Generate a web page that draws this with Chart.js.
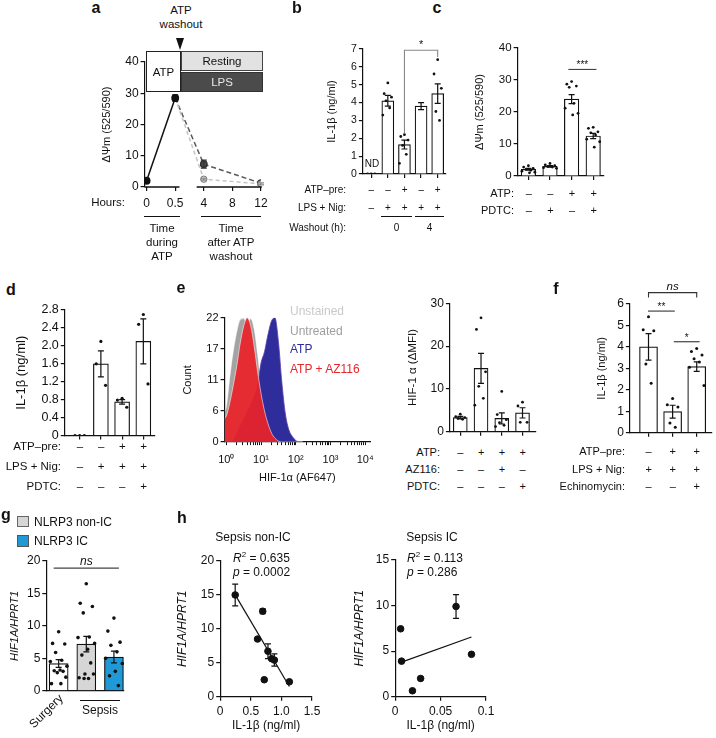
<!DOCTYPE html>
<html>
<head>
<meta charset="utf-8">
<title>Figure</title>
<script src="https://cdn.jsdelivr.net/npm/chart.js@4.4.1/dist/chart.umd.min.js"></script>
<style>
  body { margin: 0; width: 716px; height: 738px; position: relative; overflow: hidden; background: #fff;
         font-family: 'Liberation Sans', Arial, sans-serif; color: #111; }
  canvas { position: absolute; }
  .t { position: absolute; white-space: nowrap; line-height: 1; }
  .box { position: absolute; box-sizing: border-box; display: flex; align-items: center; justify-content: center; }
</style>
</head>
<body>
<script>
// ---- a: mitochondrial potential over time
const hours = ['0', '0.5', '4', '8', '12'];
const atpTrace = [2.0, 28.5, null, null, null];
const atpErr = [0, 1.0, 0, 0, 0];
const lpsTrace = [null, 28.5, 7.3, null, 1.2];
const lpsErr = [0, 0, 1.3, 0, 0];
const restTrace = [null, 28.5, 2.5, null, 1.0];
const restErr = [0, 0, 0.3, 0, 0.3];
const axisSegments = [[-0.07, 1.15], [1.75, 4.03]];

// ---- b: IL-1b after washout
const bAtpPre = ['–', '–', '+', '–', '+'];
const bLpsNig = ['–', '+', '+', '+', '+'];
const bMean = [0, 4.1, 1.65, 3.8, 4.5];
const bSem = [0, 0.3, 0.25, 0.2, 0.55];
const bDots = [[0, 0, 0], [5.1, 4.5, 4.3, 4.1, 3.7, 3.3], [2.2, 2.1, 1.9, 1.6, 1.1, 0.6], [], [6.4, 5.6, 4.8, 3.5, 3.0]];

// ---- c: PDTC
const cAtp = ['–', '–', '+', '+'];
const cPdtc = ['–', '+', '–', '+'];
const cMean = [2.1, 3.0, 24.0, 12.5];
const cSem = [0.3, 0.25, 1.4, 0.8];
const cDots = [[3.2, 2.8, 2.4, 2.1, 1.8, 1.5, 1.2, 1.0], [3.9, 3.5, 3.2, 3.0, 2.8, 2.6, 2.4],
               [29.5, 28.7, 28.1, 27.7, 22.7, 21.2, 19.6, 19.1], [15.2, 14.9, 13.8, 13.5, 12.8, 11.5, 10.7, 9.0]];

// ---- d
const dAtpPre = ['–', '–', '+', '+'];
const dLpsNig = ['–', '+', '+', '+'];
const dPdtc = ['–', '–', '–', '+'];
const dMean = [0, 1.6, 0.75, 2.1];
const dSem = [0, 0.29, 0.05, 0.5];
const dDots = [[0, 0, 0], [2.1, 1.6, 1.12], [0.83, 0.79, 0.63], [2.7, 2.48, 1.15]];

// ---- e: flow histogram
const histX = [0.89, 1, 1.26, 1.58, 2, 2.51, 3.16, 3.98, 5.01, 6.31, 7.94, 10, 12.6, 15.8, 20, 25.1, 31.6, 39.8, 50.1, 63.1, 79.4, 100, 126, 158];
const histUnstained = [4.0, 4.8, 10.0, 15.5, 19.5, 21.8, 22.0, 20.5, 18.5, 15.0, 10.5, 6.0, 2.8, 1.0, 0.3, 0, 0, 0, 0, 0, 0, 0, 0, 0];
const histUntreated = [5.5, 6.2, 11.5, 16.0, 19.5, 21.6, 21.8, 21.0, 21.8, 20.0, 15.5, 10.0, 5.0, 1.9, 0.5, 0, 0, 0, 0, 0, 0, 0, 0, 0];
const histAtp = [0, 0, 0, 0.3, 1.5, 2.8, 4.0, 5.3, 6.6, 8.0, 10.0, 14.0, 16.0, 19.0, 21.4, 22.0, 17.8, 10.5, 5.0, 2.2, 1.0, 0.3, 0, 0];
const histAtpAz = [4.2, 4.6, 7.0, 10.0, 13.5, 17.5, 20.5, 22.0, 20.6, 17.0, 12.5, 8.6, 5.5, 3.3, 1.6, 0.7, 0.2, 0, 0, 0, 0, 0, 0, 0];
const histTickVals = [1, 10, 100, 1000, 10000];
const histTickText = ['10⁰', '10¹', '10²', '10³', '10⁴'];
const countTicks = [0, 5.5, 11, 16.5, 22];
const countText = ['0', '6', '11', '17', '22'];

// ---- e: HIF-1a MFI
const eAtp = ['–', '+', '+', '+'];
const eAz = ['–', '–', '+', '–'];
const ePdtc = ['–', '–', '–', '+'];
const eMean = [3.3, 14.8, 3.1, 4.4];
const eSem = [0.3, 3.5, 1.3, 1.2];
const eDots = [[4.1, 3.5, 3.3, 3.1, 2.9], [26.6, 23.9, 14.0, 10.6, 7.8, 6.2], [9.4, 4.0, 2.8, 2.1, 1.5, 1.2], [6.9, 6.0, 2.2, 2.2]];

// ---- f: echinomycin
const fAtpPre = ['–', '+', '+'];
const fLpsNig = ['+', '+', '+'];
const fEchino = ['–', '–', '+'];
const fMean = [4.0, 0.98, 3.08];
const fSem = [0.62, 0.3, 0.22];
const fDots = [[5.4, 4.8, 4.75, 3.2, 2.3], [1.6, 1.3, 1.2, 0.45, 0.25], [3.92, 3.78, 3.62, 3.45, 3.3, 3.05, 2.2]];

// ---- g: patients
const gGroups = ['Surgery', 'NLRP3 non-IC', 'NLRP3 IC'];
const gColors = ['#ffffff', '#d6d6d6', '#1f9ad6'];
const gMean = [4.2, 7.2, 5.2];
const gSem = [0.6, 1.2, 0.9];
const gDots = [[9.1, 7.3, 7.2, 5.9, 4.7, 4.5, 3.8, 3.2, 3.1, 3.0, 2.8, 2.1, 1.1, 1.1],
               [16.5, 13.5, 13.0, 12.0, 8.3, 8.2, 7.3, 6.4, 5.5, 4.3, 2.6, 2.6, 2.0, 1.9, 1.9],
               [11.2, 9.2, 7.5, 7.0, 6.0, 5.0, 4.2, 3.0, 2.3, 0.8]];

// ---- h: correlations
const nonIcX = [0.245, 0.695, 0.61, 0.78, 0.84, 0.885, 0.72, 1.13];
const nonIcY = [15.0, 12.6, 8.5, 6.7, 5.6, 5.4, 2.5, 2.2];
const nonIcErr = [1.6, 0.35, 0, 1.1, 0, 0.9, 0, 0];
const nonIcFitX = [0.245, 1.13];
const nonIcFitY = [15.0, 1.5];
const icX = [0.006, 0.007, 0.019, 0.028, 0.067, 0.084];
const icY = [7.45, 3.9, 0.65, 2.0, 9.9, 4.65];
const icErr = [0, 0, 0, 0, 1.3, 0];
const icFitX = [0.007, 0.084];
const icFitY = [3.8, 6.55];

const FONT = "'Liberation Sans', Arial, sans-serif";
Chart.defaults.font.family = FONT;
Chart.defaults.color = '#111';

// horizontal spread of individual dots inside a bar (in category units)
const jit = [0, -0.22, 0.22, -0.11, 0.11, -0.3, 0.3, 0.05, -0.16, 0.16, -0.05, 0.26, -0.26, 0.08, -0.08, 0.2];

function txt(x, y, html, o = {}) {
  const d = document.createElement('div');
  d.className = 't';
  d.innerHTML = html;
  d.style.left = x + 'px';
  d.style.top = y + 'px';
  d.style.fontSize = (o.size || 11) + 'px';
  const tx = o.align === 'right' ? '-100%' : o.align === 'left' ? '0' : '-50%';
  d.style.transform = `translate(${tx}, -50%)` + (o.rot ? ` rotate(${o.rot}deg)` : '');
  if (o.bold) d.style.fontWeight = 'bold';
  if (o.italic) d.style.fontStyle = 'italic';
  if (o.color) d.style.color = o.color;
  document.body.appendChild(d);
  return d;
}

function rect(l, t, w, h, css, html = '') {
  const d = document.createElement('div');
  d.className = 'box';
  d.style.cssText += `left:${l}px;top:${t}px;width:${w}px;height:${h}px;` + css;
  d.innerHTML = html;
  document.body.appendChild(d);
  return d;
}

function addCanvas(outer) {
  const c = document.createElement('canvas');
  const w = Math.round(outer.r - outer.l), h = Math.round(outer.b - outer.t);
  c.width = w; c.height = h;
  c.style.left = outer.l + 'px'; c.style.top = outer.t + 'px';
  c.style.width = w + 'px'; c.style.height = h + 'px';
  document.body.appendChild(c);
  return c;
}

function pad(p) {
  return { top: p.plot.t - p.outer.t, right: p.outer.r - p.plot.r, left: 0, bottom: 0 };
}

// error bars and significance brackets
const marks = {
  id: 'marks',
  afterDatasetsDraw(chart, args, opts) {
    const ctx = chart.ctx, xs = chart.scales.x, ys = chart.scales.y;
    chart.data.datasets.forEach((ds, i) => {
      const meta = chart.getDatasetMeta(i);
      meta.data.forEach((el, j) => {
        const pt = ds.data[j];
        if (!pt || !pt.e) return;
        const y1 = ys.getPixelForValue(pt.y + pt.e), y2 = ys.getPixelForValue(pt.y - pt.e);
        const w = ds.cap || 3;
        ctx.save();
        ctx.strokeStyle = ds.errColor || '#111';
        ctx.lineWidth = 1.2;
        ctx.beginPath();
        ctx.moveTo(el.x, y1); ctx.lineTo(el.x, y2);
        ctx.moveTo(el.x - w, y1); ctx.lineTo(el.x + w, y1);
        ctx.moveTo(el.x - w, y2); ctx.lineTo(el.x + w, y2);
        ctx.stroke();
        ctx.restore();
      });
    });
    (opts.brackets || []).forEach(b => {
      const x1 = xs.getPixelForValue(b.x1), x2 = xs.getPixelForValue(b.x2), y = ys.getPixelForValue(b.y);
      ctx.save();
      ctx.strokeStyle = b.color || '#333';
      ctx.lineWidth = 1.1;
      ctx.beginPath();
      if (b.l1 != null) { ctx.moveTo(x1, ys.getPixelForValue(b.l1)); ctx.lineTo(x1, y); } else ctx.moveTo(x1, y);
      ctx.lineTo(x2, y);
      if (b.l2 != null) ctx.lineTo(x2, ys.getPixelForValue(b.l2));
      ctx.stroke();
      ctx.fillStyle = '#111';
      ctx.textAlign = 'center';
      ctx.textBaseline = 'alphabetic';
      ctx.font = (b.italic ? 'italic ' : '') + (b.size || 11) + 'px ' + FONT;
      ctx.fillText(b.text, (x1 + x2) / 2, y - (b.gap || 2));
      ctx.restore();
    });
  }
};

// x axis of panel a is drawn in two pieces
const brokenAxis = {
  id: 'brokenAxis',
  afterDraw(chart) {
    const xs = chart.scales.x, y = chart.chartArea.bottom, ctx = chart.ctx;
    ctx.save();
    ctx.strokeStyle = '#111';
    ctx.lineWidth = 1.3;
    ctx.beginPath();
    axisSegments.forEach(([a, b]) => { ctx.moveTo(xs.getPixelForValue(a), y); ctx.lineTo(xs.getPixelForValue(b), y); });
    ctx.stroke();
    ctx.restore();
  }
};

function yAxis(p) {
  return {
    type: 'linear', min: 0, max: p.yMax,
    afterBuildTicks: p.yTicks ? s => { s.ticks = p.yTicks.map(v => ({ value: v })); } : undefined,
    afterFit: s => { s.width = p.plot.l - p.outer.l; },
    border: { color: '#111', width: 1.2 },
    grid: { drawOnChartArea: false, tickLength: 4, color: '#111', lineWidth: 1.2 },
    ticks: { stepSize: p.yStep, padding: 2, color: '#111', autoSkip: false, font: { size: p.tickSize },
             callback: p.yFmt || (v => String(v)) },
    title: { display: true, text: p.yTitle, color: '#111', padding: 0,
             font: { size: p.titleSize, style: p.titleItalic ? 'italic' : 'normal' } }
  };
}

function xIndexAxis(p) {
  return {
    type: 'linear', min: p.xMin, max: p.xMax, offset: false,
    afterBuildTicks: s => { s.ticks = p.mean.map((_, i) => ({ value: i + 1 })); },
    afterFit: s => { s.height = p.outer.b - p.plot.b; },
    border: { color: '#111', width: 1.2 },
    grid: { display: p.xTicks !== false, offset: false, drawOnChartArea: false, tickLength: 4, color: '#111', lineWidth: 1.2 },
    ticks: { display: false }
  };
}

function barPanel(p) {
  const canvas = addCanvas(p.outer);
  const dotPts = [];
  p.dots.forEach((vals, i) => vals.forEach((v, j) => dotPts.push({ x: i + 1 + jit[j % jit.length] * p.spread, y: v })));
  return new Chart(canvas, {
    type: 'bar',
    data: {
      datasets: [
        { type: 'scatter', data: dotPts, pointRadius: p.dotR || 1.5, pointBackgroundColor: '#111', pointBorderWidth: 0, order: 1 },
        { type: 'bar', data: p.mean.map((m, i) => ({ x: i + 1, y: m, e: p.sem[i] })), backgroundColor: p.fill || '#fff',
          borderColor: '#111', borderWidth: 1.2, barThickness: p.barW, order: 2, cap: p.cap || 3 }
      ]
    },
    options: {
      responsive: false, animation: false,
      layout: { padding: pad(p) },
      plugins: { legend: { display: false }, tooltip: { enabled: false }, marks: { brackets: p.brackets || [] } },
      scales: { x: xIndexAxis(p), y: yAxis(p) }
    },
    plugins: [marks]
  });
}

function condRows(chart, p, rows, labelX, size) {
  const xs = chart.scales.x;
  rows.forEach(([name, vals, y]) => {
    txt(labelX, y, name, { align: 'right', size });
    vals.forEach((v, i) => txt(p.outer.l + xs.getPixelForValue(i + 1), y, v, { size }));
  });
}

function toPoints(arr, errs) {
  return arr.map((v, i) => (v == null ? null : { x: i, y: v, e: errs[i] })).filter(Boolean);
}

// ================= panel a =================
const aP = { outer: { l: 100.4, t: 48, r: 275, b: 212 }, plot: { l: 145, t: 62, r: 261, b: 187 },
             yMax: 40, yStep: 10, tickSize: 12, yTitle: 'ΔΨm (525/590)', titleSize: 11 };
new Chart(addCanvas(aP.outer), {
  type: 'line',
  data: {
    datasets: [
      { data: toPoints(atpTrace, atpErr), borderColor: '#111', borderWidth: 1.5, pointRadius: 3.2,
        pointBackgroundColor: '#111', pointBorderColor: '#111' },
      { data: toPoints(restTrace, restErr), borderColor: '#c4c4c4', borderDash: [4, 3], borderWidth: 1.5,
        pointRadius: c => (c.raw && c.raw.x === 1 ? 0 : 3.2), pointBackgroundColor: '#d4d4d4',
        pointBorderColor: '#777', pointBorderWidth: 1, errColor: '#888' },
      { data: toPoints(lpsTrace, lpsErr), borderColor: '#5a5a5a', borderDash: [5, 3], borderWidth: 1.5,
        pointRadius: c => (c.raw && c.raw.x === 1 ? 0 : 3.2), pointBackgroundColor: '#4a4a4a',
        pointBorderColor: '#333', errColor: '#333' }
    ]
  },
  options: {
    responsive: false, animation: false,
    layout: { padding: pad(aP) },
    plugins: { legend: { display: false }, tooltip: { enabled: false } },
    scales: {
      x: { type: 'linear', min: -0.07, max: 4, offset: false,
           afterBuildTicks: s => { s.ticks = hours.map((_, i) => ({ value: i })); },
           afterFit: s => { s.height = aP.outer.b - aP.plot.b; },
           border: { display: false },
           grid: { drawOnChartArea: false, tickLength: 4, color: '#111', lineWidth: 1.2 },
           ticks: { padding: 5, autoSkip: false, maxRotation: 0, font: { size: 12 }, callback: v => hours[v] } },
      y: yAxis(aP)
    }
  },
  plugins: [marks, brokenAxis]
});
txt(96, 8, 'a', { bold: true, size: 16 });
txt(181, 11, 'ATP', { size: 11.5 });
txt(181, 25, 'washout', { size: 11.5 });
rect(175.5, 38, 0, 0, 'border-left:4.5px solid transparent;border-right:4.5px solid transparent;border-top:12px solid #111;');
rect(146, 51, 35, 41, 'background:#fff;border:1px solid #222;font-size:11.5px;', 'ATP');
rect(181, 51, 82, 20, 'background:#e2e2e2;border:1px solid #444;font-size:11.5px;', 'Resting');
rect(181, 72, 82, 20, 'background:#4b4b4b;border:1px solid #333;color:#e6e6e6;font-size:11.5px;', 'LPS');
txt(125, 203, 'Hours:', { align: 'right', size: 11.5 });
rect(144, 216, 36, 0, 'border-top:1px solid #111;');
rect(201, 216, 60, 0, 'border-top:1px solid #111;');
txt(162, 229, 'Time', { size: 11.5 });
txt(162, 243, 'during', { size: 11.5 });
txt(162, 257, 'ATP', { size: 11.5 });
txt(231, 229, 'Time', { size: 11.5 });
txt(231, 243, 'after ATP', { size: 11.5 });
txt(231, 257, 'washout', { size: 11.5 });

// ================= panel b =================
const bP = { outer: { l: 325.1, t: 36, r: 458, b: 196 }, plot: { l: 363, t: 49, r: 446, b: 174 },
             xMin: 0.5, xMax: 5.5, yMax: 7, yStep: 1, tickSize: 10.5, yTitle: 'IL-1β (ng/ml)', titleSize: 11,
             barW: 12, spread: 1, dotR: 1.4, mean: bMean, sem: bSem, dots: bDots,
             brackets: [{ x1: 3, x2: 5, y: 6.93, l1: 2.3, l2: 6.55, text: '*', color: '#888', size: 11, gap: 2 }] };
const bChart = barPanel(bP);
txt(297, 8, 'b', { bold: true, size: 16 });
txt(372, 164, 'ND', { size: 10 });
condRows(bChart, bP, [['ATP–pre:', bAtpPre, 190], ['LPS + Nig:', bLpsNig, 208]], 346, 10);
txt(346, 228, 'Washout (h):', { align: 'right', size: 10 });
rect(381, 216, 31, 0, 'border-top:1px solid #111;');
rect(415, 216, 29, 0, 'border-top:1px solid #111;');
txt(396.5, 228, '0', { size: 10 });
txt(429.5, 228, '4', { size: 10 });

// ================= panel c =================
const cP = { outer: { l: 473.4, t: 36, r: 615, b: 196 }, plot: { l: 518, t: 48, r: 604, b: 176 },
             xMin: 0.5, xMax: 4.5, yMax: 40, yStep: 10, tickSize: 11.5, yTitle: 'ΔΨm (525/590)', titleSize: 11,
             barW: 14.5, spread: 1, dotR: 1.4, mean: cMean, sem: cSem, dots: cDots,
             brackets: [{ x1: 2.85, x2: 4.15, y: 33.3, text: '***', color: '#444', size: 10, gap: 1 }] };
const cChart = barPanel(cP);
txt(437, 8, 'c', { bold: true, size: 16 });
condRows(cChart, cP, [['ATP:', cAtp, 193], ['PDTC:', cPdtc, 210]], 514, 11);

// ================= panel d =================
const dP = { outer: { l: 14.2, t: 298, r: 166, b: 445 }, plot: { l: 65, t: 310, r: 155, b: 437.7 },
             xMin: 0.3, xMax: 4.55, yMax: 2.8, yStep: 0.4, yFmt: v => (v === 0 ? '0' : v.toFixed(1)),
             tickSize: 12.5, yTitle: 'IL-1β (ng/ml)', titleSize: 13,
             barW: 15, spread: 1, dotR: 1.6, mean: dMean, sem: dSem, dots: dDots };
const dChart = barPanel(dP);
txt(11, 290, 'd', { bold: true, size: 16 });
condRows(dChart, dP, [['ATP–pre:', dAtpPre, 447], ['LPS + Nig:', dLpsNig, 467], ['PDTC:', dPdtc, 487]], 61, 11.5);

// ================= panel e (histogram) =================
const hP = { outer: { l: 181.4, t: 305, r: 382, b: 484.6 }, plot: { l: 225, t: 317.7, r: 371.7, b: 441.7 },
             yMax: 22, yTicks: countTicks, yFmt: v => countText[countTicks.indexOf(v)], tickSize: 11,
             yTitle: 'Count', titleSize: 11 };
const histMinor = [];
histTickVals.forEach(d => { for (let k = 1; k < 10; k++) if (d * k <= 10000) histMinor.push(d * k); });
const histSeries = [
  { label: 'ATP + AZ116', vals: histAtpAz, fill: 'rgba(232,34,41,0.93)', line: 'rgba(255,255,255,0.7)', order: 0 },
  { label: 'ATP', vals: histAtp, fill: '#2f2c9c', line: '#5b3aa8', order: 1 },
  { label: 'Untreated', vals: histUntreated, fill: '#a3a3a3', line: 'rgba(255,255,255,0.6)', order: 2 },
  { label: 'Unstained', vals: histUnstained, fill: '#d2d2d2', line: 'rgba(255,255,255,0.6)', order: 3 }
];
new Chart(addCanvas(hP.outer), {
  type: 'line',
  data: {
    datasets: histSeries.map(s => ({
      label: s.label, data: histX.map((x, i) => ({ x, y: s.vals[i] })), order: s.order,
      backgroundColor: s.fill, borderColor: s.line, borderWidth: 0.8, fill: 'origin',
      pointRadius: 0, cubicInterpolationMode: 'monotone'
    }))
  },
  options: {
    responsive: false, animation: false,
    layout: { padding: pad(hP) },
    plugins: { legend: { display: false }, tooltip: { enabled: false } },
    scales: {
      x: { type: 'logarithmic', min: 0.89, max: 13900,
           afterBuildTicks: s => { s.ticks = histMinor.map(v => ({ value: v })); },
           afterFit: s => { s.height = hP.outer.b - hP.plot.b; },
           border: { color: '#111', width: 1.2 },
           grid: { drawOnChartArea: false, tickLength: 3, color: '#111', lineWidth: 1 },
           ticks: { padding: 8, autoSkip: false, maxRotation: 0, font: { size: 11 },
                    callback: v => { const k = histTickVals.indexOf(v); return k < 0 ? '' : histTickText[k]; } },
           title: { display: true, text: 'HIF-1α (AF647)', padding: 0, font: { size: 11 } } },
      y: yAxis(hP)
    }
  }
});
txt(181, 288, 'e', { bold: true, size: 16 });
txt(290, 311, 'Unstained', { align: 'left', size: 12, color: '#c9c9c9' });
txt(290, 331, 'Untreated', { align: 'left', size: 12, color: '#9e9e9e' });
txt(290, 349, 'ATP', { align: 'left', size: 12, color: '#2f2c9c' });
txt(290, 369, 'ATP + AZ116', { align: 'left', size: 12, color: '#e8262c' });

// ================= panel e (bars) =================
const eP = { outer: { l: 406.1, t: 292, r: 546, b: 445 }, plot: { l: 450, t: 303.3, r: 536, b: 431.7 },
             xMin: 0.5, xMax: 4.65, yMax: 30, yStep: 10, tickSize: 12, yTitle: 'HIF-1 α (ΔMFI)', titleSize: 11.5,
             barW: 14, spread: 1, dotR: 1.4, mean: eMean, sem: eSem, dots: eDots };
const eChart = barPanel(eP);
condRows(eChart, eP, [['ATP:', eAtp, 452], ['AZ116:', eAz, 469], ['PDTC:', ePdtc, 486]], 440, 11);

// ================= panel f =================
const fP = { outer: { l: 595.1, t: 275, r: 716, b: 445 }, plot: { l: 630, t: 304, r: 716, b: 432.7 },
             xMin: 0.228, xMax: 3.634, yMax: 6, yStep: 1, tickSize: 12, yTitle: 'IL-1β (ng/ml)', titleSize: 11,
             barW: 18, spread: 1, dotR: 1.5, mean: fMean, sem: fSem, dots: fDots,
             brackets: [
               { x1: 1, x2: 3, y: 6.53, l1: 6.3, l2: 6.3, text: 'ns', italic: true, size: 11.5, gap: 3 },
               { x1: 0.98, x2: 2.09, y: 5.67, text: '**', size: 10, gap: 1 },
               { x1: 2.05, x2: 3.12, y: 4.24, text: '*', size: 10, gap: 1 }
             ] };
const fChart = barPanel(fP);
txt(556, 289, 'f', { bold: true, size: 16 });
condRows(fChart, fP, [['ATP–pre:', fAtpPre, 451], ['LPS + Nig:', fLpsNig, 469], ['Echinomycin:', fEchino, 486]], 625, 11);

// ================= panel g =================
const gP = { outer: { l: 8.4, t: 545, r: 136, b: 700 }, plot: { l: 46.7, t: 561, r: 124, b: 692.3 },
             xMin: 0.553, xMax: 3.364, yMax: 20, yStep: 5, tickSize: 12, yTitle: 'HIF1A/HPRT1', titleSize: 11,
             titleItalic: true, xTicks: false, fill: gColors,
             barW: 19, spread: 1, dotR: 1.8, mean: gMean, sem: gSem, dots: gDots,
             brackets: [{ x1: 0.82, x2: 3.18, y: 18.9, text: 'ns', italic: true, size: 12, gap: 3, color: '#444' }] };
barPanel(gP);
txt(6, 515, 'g', { bold: true, size: 16 });
rect(17, 516, 12, 11, `background:${gColors[1]};border:1px solid #666;`);
rect(17, 535, 12, 12, `background:${gColors[2]};border:1px solid #555;`);
txt(34, 522, gGroups[1], { align: 'left', size: 12 });
txt(34, 541, gGroups[2], { align: 'left', size: 12 });
txt(46, 711, gGroups[0], { size: 12, rot: -45 });
rect(80, 700, 40, 0, 'border-top:1px solid #111;');
txt(100, 710, 'Sepsis', { size: 12 });

// ================= panel h =================
function scatterPanel(p) {
  return new Chart(addCanvas(p.outer), {
    type: 'scatter',
    data: {
      datasets: [
        { data: p.xs.map((x, i) => ({ x, y: p.ys[i], e: p.errs[i] })), pointRadius: 3.3,
          pointBackgroundColor: '#111', pointBorderColor: '#111', order: 1, cap: 3 },
        { type: 'line', data: p.fitX.map((x, i) => ({ x, y: p.fitY[i] })), borderColor: '#111',
          borderWidth: 1.2, pointRadius: 0, order: 2 }
      ]
    },
    options: {
      responsive: false, animation: false,
      layout: { padding: pad(p) },
      plugins: { legend: { display: false }, tooltip: { enabled: false } },
      scales: {
        x: { type: 'linear', min: 0, max: p.xMax,
             afterBuildTicks: s => { s.ticks = p.xTicks.map(v => ({ value: v })); },
             afterFit: s => { s.height = p.outer.b - p.plot.b; },
             border: { color: '#111', width: 1.2 },
             grid: { drawOnChartArea: false, tickLength: 4, color: '#111', lineWidth: 1.2 },
             ticks: { padding: 4, autoSkip: false, maxRotation: 0, font: { size: 12 },
                      callback: v => p.xText[p.xTicks.indexOf(v)] },
             title: { display: true, text: 'IL-1β (ng/ml)', padding: 0, font: { size: 12 } } },
        y: yAxis(p)
      }
    },
    plugins: [marks]
  });
}
const hLeft = { outer: { l: 174.8, t: 548, r: 325, b: 733 }, plot: { l: 220, t: 561, r: 312, b: 696.7 },
                yMax: 20, yStep: 5, tickSize: 12, yTitle: 'HIF1A/HPRT1', titleSize: 12, titleItalic: true,
                xMax: 1.5, xTicks: [0, 0.5, 1, 1.5], xText: ['0', '0.5', '1.0', '1.5'],
                xs: nonIcX, ys: nonIcY, errs: nonIcErr, fitX: nonIcFitX, fitY: nonIcFitY };
scatterPanel(hLeft);
const hRight = { outer: { l: 351.8, t: 548, r: 500, b: 733 }, plot: { l: 395, t: 560, r: 486, b: 696.7 },
                 yMax: 15, yStep: 5, tickSize: 12, yTitle: 'HIF1A/HPRT1', titleSize: 12, titleItalic: true,
                 xMax: 0.1, xTicks: [0, 0.05, 0.1], xText: ['0', '0.05', '0.1'],
                 xs: icX, ys: icY, errs: icErr, fitX: icFitX, fitY: icFitY };
scatterPanel(hRight);
txt(182, 518, 'h', { bold: true, size: 16 });
txt(253, 537, 'Sepsis non-IC', { size: 12 });
txt(432, 537, 'Sepsis IC', { size: 12 });
txt(233, 557, '<i>R</i><sup style="font-size:8px">2</sup> = 0.635', { align: 'left', size: 12 });
txt(233, 572, '<i>p</i> = 0.0002', { align: 'left', size: 12 });
txt(407, 557, '<i>R</i><sup style="font-size:8px">2</sup> = 0.113', { align: 'left', size: 12 });
txt(407, 572, '<i>p</i> = 0.286', { align: 'left', size: 12 });
</script>
</body>
</html>
